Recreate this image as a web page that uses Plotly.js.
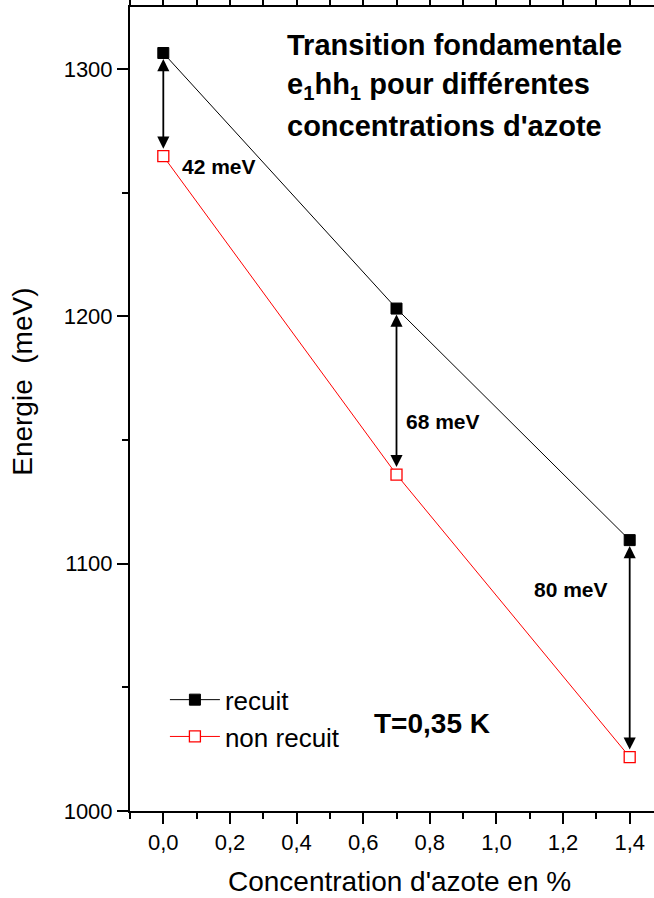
<!DOCTYPE html>
<html>
<head>
<meta charset="utf-8">
<script src="https://cdn.plot.ly/plotly-3.0.1.min.js"></script>
<style>
html,body{margin:0;padding:0;overflow:hidden;background:#fff;}
#chart{width:665px;height:898px;}
</style>
</head>
<body>
<div id="chart"></div>
<script>
// Data
const concentration = [0.0, 0.7, 1.4];
const recuit = [1306.4, 1203.1, 1109.5];
const nonRecuit = [1264.7, 1136.0, 1021.8];
const gapLabels = ['42 meV', '68 meV', '80 meV'];
const seriesNames = ['recuit', 'non recuit'];
const titleLines = ['Transition fondamentale', 'e<sub>1</sub>hh<sub>1</sub> pour différentes', 'concentrations d\'azote'];
const xTickVals = [0, 0.2, 0.4, 0.6, 0.8, 1.0, 1.2, 1.4];
const yTickVals = [1000, 1100, 1200, 1300];

// Layout positions (not data)
const gapLabelPos = [[0.1685, 1260.7], [0.8406, 1157.6], [1.2246, 1089.7]];
const titleLineY = [1309.5, 1292.9, 1277.1];
const titleX = 0.366;

const FONT = 'Arial, "Liberation Sans", Helvetica, sans-serif';

const traces = [
  {
    x: concentration, y: recuit, name: seriesNames[0],
    type: 'scatter', mode: 'lines+markers',
    line: {color: '#000000', width: 1},
    marker: {symbol: 'square', size: 11, color: '#000000', line: {color: '#000000', width: 1}}
  },
  {
    x: concentration, y: nonRecuit, name: seriesNames[1],
    type: 'scatter', mode: 'lines+markers',
    line: {color: '#ff0000', width: 1},
    marker: {symbol: 'square', size: 11, color: '#ffffff', line: {color: '#ff0000', width: 1.3}}
  }
];

const annotations = [];
concentration.forEach((c, i) => {
  annotations.push({
    x: c, y: recuit[i], ax: c, ay: nonRecuit[i],
    xref: 'x', yref: 'y', axref: 'x', ayref: 'y',
    text: '', showarrow: true, arrowside: 'end+start',
    arrowhead: 2, startarrowhead: 2, arrowsize: 1.35, startarrowsize: 1.35,
    arrowwidth: 1.8, arrowcolor: '#000000', standoff: 6, startstandoff: 6
  });
  annotations.push({
    x: gapLabelPos[i][0], y: gapLabelPos[i][1], xref: 'x', yref: 'y',
    text: '<b>' + gapLabels[i] + '</b>', showarrow: false,
    xanchor: 'center', yanchor: 'middle',
    font: {family: FONT, size: 21, color: '#000000'}
  });
});
titleLines.forEach((t, i) => {
  annotations.push({
    x: titleX, y: titleLineY[i], xref: 'x', yref: 'y',
    text: '<b>' + t + '</b>',
    showarrow: false, xanchor: 'left', yanchor: 'middle', align: 'left',
    font: {family: FONT, size: 29, color: '#000000'}
  });
});
annotations.push({
  x: 0.806, y: 1035.5, xref: 'x', yref: 'y',
  text: '<b>T=0,35 K</b>', showarrow: false, xanchor: 'center', yanchor: 'middle',
  font: {family: FONT, size: 28, color: '#000000'}
});
annotations.push({
  x: -0.2008, y: 0.5338, xref: 'paper', yref: 'paper',
  text: 'Energie&nbsp;&nbsp;(meV)', textangle: -90, showarrow: false,
  xanchor: 'center', yanchor: 'middle',
  font: {family: FONT, size: 28, color: '#000000'}
});
annotations.push({
  x: 0.5056, y: -0.0875, xref: 'paper', yref: 'paper',
  text: 'Concentration d\'azote en %', showarrow: false,
  xanchor: 'center', yanchor: 'middle',
  font: {family: FONT, size: 28, color: '#000000'}
});

const layout = {
  width: 665, height: 898,
  margin: {l: 130, r: 2, t: 7, b: 87},
  paper_bgcolor: '#ffffff', plot_bgcolor: '#ffffff',
  separators: ',.',
  font: {family: FONT, color: '#000000'},
  showlegend: true,
  legend: {
    x: 0.0655, y: 0.1676, xanchor: 'left', yanchor: 'top',
    bgcolor: 'rgba(0,0,0,0)', borderwidth: 0,
    font: {family: FONT, size: 26, color: '#000000'},
    itemwidth: 50, tracegroupgap: 0
  },
  xaxis: {
    range: [-0.1, 1.5], tickmode: 'array', tickvals: xTickVals, tickformat: '.1f',
    ticks: 'outside', ticklen: 11, tickwidth: 2, tickcolor: '#000000',
    minor: {dtick: 0.1, tick0: 0, ticks: 'outside', ticklen: 6, tickwidth: 2, tickcolor: '#000000'},
    showline: true, linewidth: 2, linecolor: '#000000', mirror: 'ticks',
    showgrid: false, zeroline: false,
    tickfont: {family: FONT, size: 22, color: '#000000'}
  },
  yaxis: {
    range: [1000, 1325], tickmode: 'array', tickvals: yTickVals,
    ticks: 'outside', ticklen: 11, tickwidth: 2, tickcolor: '#000000',
    minor: {dtick: 50, tick0: 1000, ticks: 'outside', ticklen: 6, tickwidth: 2, tickcolor: '#000000'},
    showline: true, linewidth: 2, linecolor: '#000000', mirror: 'ticks',
    showgrid: false, zeroline: false,
    tickfont: {family: FONT, size: 22, color: '#000000'}
  },
  annotations: annotations
};

Plotly.newPlot('chart', traces, layout, {displayModeBar: false, staticPlot: true});
</script>
</body>
</html>
